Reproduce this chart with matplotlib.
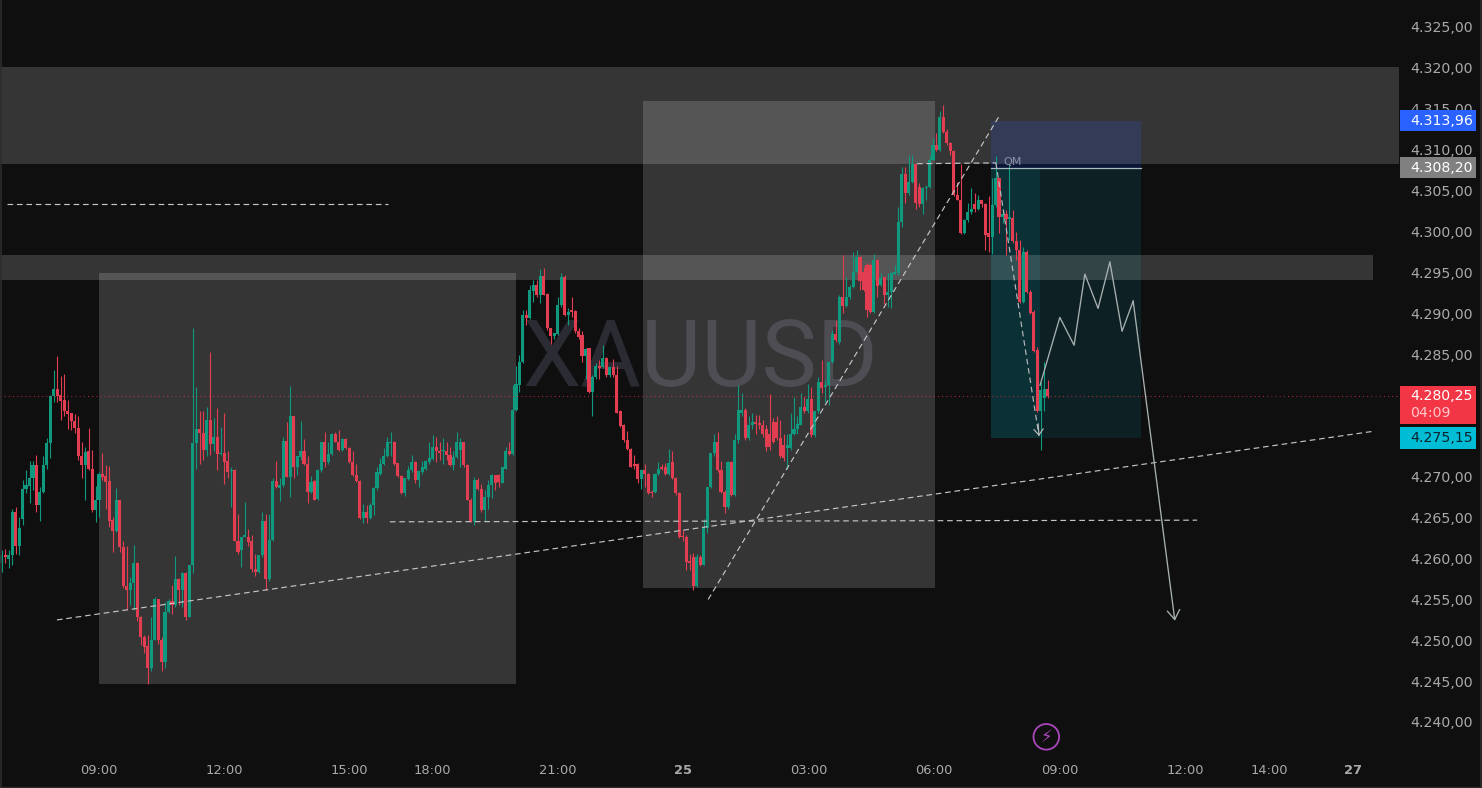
import numpy as np
import matplotlib
matplotlib.use("Agg")
import matplotlib.pyplot as plt
from matplotlib.patches import Rectangle
from matplotlib.transforms import blended_transform_factory

candle_index = list(range(-28, 274))

opens = [4259.8,4260.9,4260.4,4260.8,4266.1,4261.9,4265.2,4268.9,4269.3,4270.2,
4271.8,4267.0,4268.5,4271.8,4274.5,4280.3,4281.2,4280.4,4279.8,4278.5,
4278.2,4277.2,4276.4,4273.0,4271.8,4273.5,4271.4,4266.3,4267.6,4270.8,
4270.5,4269.9,4265.1,4263.8,4267.6,4261.8,4257.0,4256.6,4257.4,4259.9,
4253.2,4250.8,4249.7,4247.0,4250.5,4255.4,4250.5,4247.8,4253.9,4255.2,
4254.7,4257.9,4256.6,4258.6,4253.3,4259.6,4274.5,4276.3,4275.8,4273.7,
4277.4,4274.4,4275.3,4273.2,4273.3,4272.3,4271.1,4271.2,4262.6,4261.4,
4263.1,4263.1,4262.5,4259.1,4258.8,4260.8,4265.0,4257.9,4262.7,4269.9,
4269.0,4269.4,4274.8,4270.4,4277.8,4271.6,4272.8,4273.5,4272.0,4268.5,
4269.9,4267.7,4271.2,4274.6,4272.2,4273.2,4275.7,4274.7,4273.7,4275.0,
4273.9,4272.2,4270.6,4269.9,4265.4,4266.1,4265.4,4267.0,4269.0,4270.8,
4272.0,4272.9,4274.5,4274.7,4272.1,4270.5,4268.4,4270.1,4271.2,4272.2,
4270.0,4271.0,4271.4,4272.2,4272.6,4274.0,4273.6,4273.5,4273.6,4273.1,
4271.8,4272.8,4273.7,4274.6,4271.8,4267.6,4265.0,4270.0,4268.9,4266.3,
4267.9,4269.4,4270.6,4270.6,4269.7,4271.4,4273.5,4273.2,4278.6,4281.6,
4284.5,4290.2,4289.8,4293.1,4293.9,4292.6,4295.0,4292.8,4288.6,4287.6,
4287.9,4291.4,4294.9,4290.2,4290.7,4290.7,4288.2,4287.7,4285.2,4286.1,
4280.8,4282.6,4283.9,4283.8,4284.9,4282.8,4283.8,4282.9,4278.4,4276.7,
4274.9,4273.8,4272.0,4272.0,4270.1,4271.2,4270.8,4268.6,4268.5,4270.7,
4271.6,4271.6,4270.7,4272.2,4270.2,4268.4,4263.2,4263.1,4260.0,4260.6,
4257.0,4260.6,4259.6,4264.1,4269.2,4273.3,4274.7,4271.2,4268.5,4266.7,
4272.2,4268.2,4274.9,4278.2,4278.6,4275.1,4276.7,4277.1,4277.0,4276.8,
4276.3,4275.7,4277.1,4277.1,4275.1,4274.3,4273.9,4273.9,4275.7,4276.3,
4276.7,4279.0,4278.4,4279.9,4275.5,4278.4,4282.0,4281.4,4281.6,4284.5,
4287.9,4286.9,4292.4,4291.3,4292.4,4293.6,4295.5,4297.3,4295.5,4296.3,
4296.3,4290.6,4296.9,4293.9,4294.8,4292.7,4293.0,4295.2,4295.3,4301.6,
4307.5,4305.1,4306.5,4308.7,4305.9,4303.8,4305.7,4305.8,4309.2,4311.0,
4310.4,4314.4,4312.6,4311.2,4310.2,4304.9,4304.3,4300.2,4301.8,4302.8,
4303.8,4303.1,4304.2,4303.8,4300.2,4299.7,4303.6,4306.9,4302.2,4302.5,
4301.9,4302.0,4299.2,4298.1,4291.8,4297.9,4293.0,4290.6,4285.9,4278.4,
4280.0,4281.2]

highs = [4261.4,4261.6,4261.4,4266.5,4266.7,4265.5,4270.0,4271.2,4272.3,4272.3,
4273.1,4269.2,4272.9,4275.1,4280.4,4283.5,4285.2,4282.7,4283.0,4279.8,
4278.2,4278.1,4277.9,4274.7,4274.0,4276.4,4273.7,4269.3,4271.0,4273.3,
4271.8,4271.7,4265.5,4269.0,4267.6,4262.5,4261.9,4258.2,4262.1,4260.0,
4253.4,4251.0,4251.0,4253.3,4255.7,4255.5,4250.8,4255.1,4255.5,4257.2,
4260.7,4258.0,4258.7,4258.7,4259.6,4288.6,4281.4,4278.4,4278.4,4278.9,
4285.7,4277.6,4278.8,4276.5,4278.2,4273.5,4271.6,4271.3,4265.9,4263.1,
4267.3,4264.0,4263.3,4261.0,4260.8,4266.1,4265.9,4265.9,4270.2,4272.3,
4270.2,4275.3,4277.1,4281.5,4277.8,4272.9,4277.2,4275.0,4272.9,4270.5,
4270.0,4271.4,4274.7,4275.9,4274.7,4275.8,4275.9,4276.1,4275.1,4275.2,
4274.1,4273.5,4272.0,4270.0,4267.1,4266.9,4267.2,4269.2,4271.6,4272.7,
4273.9,4275.3,4275.9,4274.8,4272.1,4270.6,4270.2,4271.7,4273.1,4272.3,
4271.2,4272.3,4272.5,4274.7,4275.5,4275.3,4274.7,4275.1,4274.7,4274.1,
4273.5,4275.9,4275.1,4274.7,4272.0,4267.8,4270.4,4270.2,4269.5,4268.8,
4270.0,4270.7,4270.6,4270.8,4271.6,4274.1,4274.7,4281.6,4283.9,4285.3,
4290.8,4290.8,4293.9,4294.5,4294.5,4295.8,4295.9,4292.9,4288.6,4288.0,
4292.4,4295.3,4295.1,4291.0,4292.4,4290.8,4288.6,4288.2,4286.1,4286.2,
4282.9,4284.3,4284.7,4286.5,4285.0,4283.9,4284.8,4283.9,4278.6,4276.9,
4276.0,4273.9,4273.1,4272.1,4271.4,4272.0,4270.9,4268.8,4270.9,4272.2,
4272.0,4272.1,4273.8,4273.5,4270.4,4268.5,4263.9,4263.3,4261.0,4261.1,
4261.0,4260.8,4265.3,4269.2,4273.3,4275.7,4275.9,4272.3,4268.8,4272.3,
4272.3,4275.7,4281.6,4280.6,4278.8,4277.8,4278.2,4278.0,4278.0,4277.3,
4276.7,4280.5,4277.6,4277.8,4277.3,4275.7,4275.7,4278.2,4280.2,4277.8,
4280.6,4280.2,4281.8,4281.4,4278.4,4282.6,4284.7,4282.2,4284.5,4288.4,
4289.6,4292.6,4297.5,4294.9,4293.9,4297.9,4298.1,4297.4,4296.1,4296.5,
4296.5,4297.7,4297.0,4295.3,4294.9,4295.3,4295.4,4296.3,4303.4,4308.3,
4308.3,4309.8,4309.8,4308.7,4306.3,4305.9,4306.1,4309.6,4311.8,4312.4,
4315.1,4315.9,4312.9,4311.4,4310.4,4306.5,4308.7,4301.9,4303.9,4305.7,
4305.1,4304.9,4304.3,4303.9,4304.7,4306.9,4309.6,4306.9,4303.2,4303.0,
4308.7,4303.0,4300.4,4299.4,4298.5,4298.1,4293.3,4290.8,4286.3,4282.0,
4284.5,4282.2]

lows = [4258.8,4259.8,4259.2,4259.6,4261.0,4260.8,4264.5,4268.4,4267.2,4268.8,
4266.1,4265.0,4268.4,4271.4,4272.7,4279.5,4279.6,4277.3,4277.8,4276.3,
4276.1,4275.8,4272.5,4270.2,4267.6,4271.2,4266.1,4264.9,4265.5,4270.0,
4266.5,4264.3,4261.2,4263.7,4261.2,4256.8,4254.2,4254.7,4254.1,4252.8,
4249.8,4248.8,4245.1,4246.6,4250.4,4250.0,4246.6,4247.0,4253.7,4253.6,
4254.5,4254.7,4254.5,4252.9,4253.2,4258.6,4271.4,4272.0,4272.5,4272.9,
4273.1,4273.5,4271.2,4273.1,4269.5,4270.2,4266.7,4262.5,4261.0,4259.4,
4263.1,4261.9,4258.8,4258.3,4258.6,4260.6,4256.6,4257.7,4262.6,4269.0,
4267.4,4269.2,4270.4,4267.9,4270.2,4270.6,4272.5,4271.8,4267.2,4268.4,
4267.6,4267.6,4271.0,4271.6,4272.0,4273.1,4274.6,4273.6,4273.6,4273.8,
4272.1,4270.5,4269.8,4265.3,4264.7,4264.7,4265.3,4265.7,4268.8,4270.6,
4271.8,4272.8,4272.9,4271.8,4270.4,4268.3,4268.1,4270.0,4271.0,4269.6,
4269.1,4270.8,4271.2,4272.0,4272.5,4272.2,4272.5,4272.0,4272.5,4271.7,
4271.2,4272.7,4271.6,4271.6,4267.6,4264.9,4264.5,4268.8,4266.1,4265.0,
4266.5,4267.8,4268.8,4269.1,4269.6,4271.3,4273.1,4273.1,4278.4,4280.8,
4284.3,4289.0,4289.7,4291.8,4292.4,4291.7,4292.6,4288.4,4286.7,4287.3,
4287.7,4291.2,4290.1,4289.0,4290.0,4288.0,4287.3,4284.5,4282.4,4280.7,
4277.9,4282.4,4282.4,4283.7,4282.6,4282.6,4282.6,4278.2,4276.5,4274.7,
4273.7,4271.6,4271.4,4269.7,4268.9,4269.2,4268.3,4267.9,4268.4,4270.6,
4271.2,4270.6,4270.6,4270.1,4268.2,4262.9,4262.5,4259.0,4259.0,4256.6,
4256.9,4259.5,4259.6,4263.5,4269.0,4272.9,4271.0,4268.4,4266.0,4266.5,
4268.1,4268.0,4274.5,4277.9,4274.9,4274.9,4276.3,4275.7,4276.3,4275.3,
4273.5,4273.7,4274.5,4274.9,4272.7,4272.3,4271.4,4273.7,4275.5,4275.7,
4276.7,4278.2,4278.2,4275.3,4275.3,4278.2,4280.6,4279.6,4279.2,4284.3,
4286.9,4286.7,4290.4,4291.2,4292.2,4293.5,4295.3,4293.3,4293.1,4290.0,
4290.4,4290.4,4292.4,4293.7,4291.6,4291.2,4291.0,4295.1,4295.1,4301.0,
4303.9,4304.9,4306.3,4303.2,4303.4,4302.6,4304.3,4305.7,4309.2,4310.3,
4310.3,4312.4,4311.0,4309.8,4304.7,4304.3,4300.1,4300.1,4301.6,4302.6,
4302.8,4303.0,4303.4,4298.1,4297.9,4297.7,4303.4,4300.2,4301.4,4297.5,
4299.4,4299.0,4296.9,4291.7,4291.7,4292.9,4290.3,4285.7,4278.3,4273.7,
4278.4,4280.0]

closes = [4260.8,4260.6,4260.8,4266.1,4261.9,4264.1,4268.9,4269.4,4270.2,4271.8,
4267.0,4268.5,4271.8,4274.5,4280.3,4281.2,4280.3,4279.7,4278.4,4278.1,
4277.2,4276.4,4273.0,4271.8,4273.4,4271.4,4266.3,4267.6,4270.8,4270.4,
4269.8,4265.0,4263.8,4267.6,4261.8,4257.0,4256.6,4257.4,4259.9,4253.2,
4250.8,4249.6,4247.0,4250.5,4255.4,4250.5,4247.8,4253.9,4255.2,4254.7,
4257.9,4256.6,4258.6,4253.3,4259.6,4274.5,4276.3,4275.8,4273.7,4277.4,
4274.4,4275.3,4273.2,4273.3,4272.2,4271.0,4271.2,4262.6,4261.2,4263.1,
4263.2,4262.4,4259.1,4258.7,4260.8,4265.0,4257.9,4262.7,4269.9,4269.1,
4269.4,4274.8,4270.4,4277.8,4271.6,4272.9,4273.5,4272.0,4268.5,4269.8,
4267.6,4271.2,4274.6,4272.2,4273.2,4275.7,4274.7,4273.7,4275.0,4273.9,
4272.2,4270.6,4269.9,4265.4,4266.1,4265.4,4267.0,4269.0,4271.0,4272.0,
4272.9,4274.7,4274.7,4272.0,4270.5,4268.4,4270.2,4271.2,4272.2,4270.0,
4271.1,4271.6,4272.3,4272.7,4274.0,4273.6,4273.3,4273.7,4273.1,4271.8,
4272.8,4274.6,4274.7,4271.8,4267.6,4265.0,4270.0,4268.9,4266.3,4267.9,
4269.4,4270.6,4269.7,4269.8,4271.6,4273.5,4273.2,4278.6,4281.7,4284.5,
4290.2,4289.8,4293.2,4293.9,4292.6,4295.0,4292.7,4288.6,4287.6,4288.0,
4291.4,4294.9,4290.2,4290.6,4290.6,4288.2,4287.5,4285.2,4286.0,4280.8,
4282.6,4283.9,4283.7,4284.9,4282.8,4283.8,4282.8,4278.2,4276.6,4274.9,
4273.8,4271.6,4271.7,4270.1,4271.2,4270.8,4268.4,4268.4,4270.8,4271.3,
4271.3,4270.7,4272.1,4270.2,4268.4,4263.1,4263.0,4260.0,4259.9,4257.0,
4260.6,4259.6,4264.1,4269.2,4273.3,4274.7,4271.2,4268.5,4266.7,4272.2,
4268.2,4274.9,4278.6,4278.6,4275.1,4276.7,4277.1,4276.9,4276.7,4275.7,
4274.1,4274.1,4274.7,4275.1,4272.9,4272.7,4274.3,4275.7,4276.3,4276.9,
4279.0,4278.4,4279.9,4275.5,4278.4,4282.0,4281.3,4281.6,4284.5,4287.9,
4287.1,4292.4,4291.3,4292.4,4293.6,4295.5,4297.3,4294.3,4293.3,4290.8,
4290.6,4296.9,4293.7,4294.7,4292.7,4293.0,4295.3,4295.4,4301.6,4307.5,
4305.1,4306.5,4308.7,4303.9,4303.8,4305.7,4305.8,4309.2,4311.0,4310.4,
4314.4,4312.6,4311.2,4310.2,4304.9,4304.3,4300.2,4301.8,4302.8,4303.2,
4303.1,4304.3,4303.8,4300.0,4299.7,4303.6,4306.9,4302.2,4302.5,4301.9,
4302.2,4299.2,4298.1,4291.8,4297.9,4293.0,4290.4,4285.8,4278.4,4281.0,
4281.2,4280.25]

x_tick_pos = [0, 36, 72, 96, 132, 168, 204.3, 240.2, 276.5, 312.5, 336.7, 360.9]
x_tick_lab = ["09:00", "12:00", "15:00", "18:00", "21:00", "25", "03:00", "06:00", "09:00", "12:00", "14:00", "27"]
y_tick_pos = [4325, 4320, 4315, 4310, 4305, 4300, 4295, 4290, 4285, 4270, 4265, 4260, 4255, 4250, 4245, 4240]
y_tick_lab = ["4.325,00", "4.320,00", "4.315,00", "4.310,00", "4.305,00", "4.300,00", "4.295,00", "4.290,00",
              "4.285,00", "4.270,00", "4.265,00", "4.260,00", "4.255,00", "4.250,00", "4.245,00", "4.240,00"]

top_band = (4308.66, 4320.5, 374.1)
mid_band = (4294.47, 4297.53, 366.6)
box_one = (0, 120, 4245.06, 4295.33)
box_two = (156.5, 240.6, 4256.8, 4316.4)
stop_price, entry_price, target_price, last_price = 4313.96, 4308.20, 4275.15, 4280.25
pos_left, pos_now, pos_right = 256.7, 270.8, 299.9

long_trend_x, long_trend_y = [-12.1, 367.2], [4252.9, 4276.0]
flat_x, flat_y = [83.7, 316.0], [4264.9, 4265.1]
upper_x, upper_y = [-26.5, 83.2], [4303.8, 4303.8]
rise_x, rise_y = [175.3, 259.3], [4255.4, 4314.7]
qm_x, qm_y = [235.4, 258.1], [4308.7, 4308.8]
drop_x, drop_y = [258.1, 270.5], [4308.8, 4275.4]
path_x = [270.8, 276.5, 280.6, 283.7, 287.5, 290.9, 294.4, 297.6, 309.6]
path_y = [4281.6, 4289.9, 4286.5, 4295.2, 4291.0, 4296.7, 4288.2, 4291.9, 4252.8]

BG = "#0f0f0f"
UP, DOWN = "#0f9a80", "#e23d50"
DASH = (0, (4.8, 3.2))
PX = 3.475

fig = plt.figure(figsize=(14.82, 7.88), dpi=100, facecolor=BG)
ax = fig.add_axes([0, 0, 1, 1], facecolor=BG)
ax.set_xlim(-99 / PX, (1482 - 99) / PX)
ax.set_ylim(4280.25 + (396.3 - 788) / 8.176, 4280.25 + 396.3 / 8.176)
ax.axis("off")

ax.text(173, 4284.6, "XAUUSD", color="#2b2b33", fontsize=67, family="Roboto", ha="center", va="center", zorder=0)

x0 = ax.get_xlim()[0]
ax.add_patch(Rectangle((pos_left, target_price), pos_right - pos_left, entry_price - target_price, fc="#00bcd4", alpha=0.11, lw=0, zorder=1))
ax.add_patch(Rectangle((pos_left, target_price), pos_now - pos_left, entry_price - target_price, fc="#00bcd4", alpha=0.10, lw=0, zorder=1))
ax.add_patch(Rectangle((pos_left, entry_price), pos_right - pos_left, stop_price - entry_price, fc="#0c1638", lw=0, zorder=1.2))
ax.add_patch(Rectangle((x0, top_band[0]), top_band[2] - x0, top_band[1] - top_band[0], fc="white", alpha=0.16, lw=0, zorder=1.5))
ax.add_patch(Rectangle((x0, mid_band[0]), mid_band[2] - x0, mid_band[1] - mid_band[0], fc="white", alpha=0.16, lw=0, zorder=1.5))
for l, r, b, t in (box_one, box_two):
    ax.add_patch(Rectangle((l, b), r - l, t - b, fc="white", alpha=0.16, lw=0, zorder=1.6))

assert len(opens) == len(highs) == len(lows) == len(closes) == len(candle_index)
o, h, l, c = map(np.array, (opens, highs, lows, closes))
xs = np.array(candle_index)
cols = np.where(c >= o, UP, DOWN)
ax.vlines(xs, l, h, colors=cols, lw=0.8, zorder=3)
bottoms = np.minimum(o, c)
heights = np.maximum(np.abs(c - o), 0.15)
ax.bar(xs, heights, bottom=bottoms, width=0.88, color=cols, lw=0, zorder=3.1)

ax.plot([x0, 374.3], [last_price, last_price], color="#f23645", lw=0.75, ls=(0, (1, 3)), alpha=0.7, zorder=3.5)
ax.plot([pos_left, pos_right], [entry_price, entry_price], color="#a9bcc2", lw=0.9, zorder=4)

for xv, yv in ((long_trend_x, long_trend_y), (flat_x, flat_y), (upper_x, upper_y), (rise_x, rise_y), (qm_x, qm_y)):
    ax.plot(xv, yv, color="#c4c4c4", lw=0.85, ls=DASH, zorder=4)
ax.plot(drop_x, drop_y, color="#b8b8b8", lw=0.85, ls=DASH, zorder=4)
ax.annotate("", xy=(drop_x[1], drop_y[1]), xytext=(drop_x[1] - 0.25, drop_y[1] + 1.5),
            arrowprops=dict(arrowstyle="->,head_length=0.35,head_width=0.28", color="#b8b8b8", lw=0.85,
                            mutation_scale=12, shrinkA=0, shrinkB=0), zorder=4)
ax.plot(path_x[:-1], path_y[:-1], color="#a8b0b0", lw=0.95, zorder=4)
ax.annotate("", xy=(path_x[-1], path_y[-1]), xytext=(path_x[-2], path_y[-2]),
            arrowprops=dict(arrowstyle="->,head_length=0.42,head_width=0.28", color="#a8b0b0", lw=0.95,
                            mutation_scale=16, shrinkA=0, shrinkB=0), zorder=4)
ax.text(263.0, 4308.9, "QM", color="#8a93a8", fontsize=8, ha="center", va="center", family="DejaVu Sans", zorder=4)

trans = blended_transform_factory(ax.transAxes, ax.transData)
LABEL_X = 1410 / 1482
for p, s in zip(y_tick_pos, y_tick_lab):
    ax.text(LABEL_X, p + 0.24, s, transform=trans, color="#a9a9a9", fontsize=10.2, va="center", ha="left", zorder=5)
for p, s in zip(x_tick_pos, x_tick_lab):
    ax.text(p, 4280.25 + (396.3 - 770.5) / 8.176, s, color="#a9a9a9", fontsize=9.4, ha="center", va="center",
            fontweight="bold" if s in ("25", "27") else "normal", zorder=5)

box_l, box_w = (1400 - 99) / PX, 76 / PX
labels = [(stop_price, "#2962ff", "4.313,96", "white"), (entry_price, "#808080", "4.308,20", "white"),
          (target_price, "#00bcd4", "4.275,15", "#0b2530")]
for p, fc, s, tc in labels:
    ax.add_patch(Rectangle((box_l, p - 1.3), box_w, 2.6, fc=fc, lw=0, zorder=6))
    ax.text(LABEL_X, p, s, transform=trans, color=tc, fontsize=10.2, va="center", ha="left", zorder=7)
ax.add_patch(Rectangle((box_l, last_price - 3.4), box_w, 4.65, fc="#f23645", lw=0, zorder=6))
ax.text(LABEL_X, last_price, "4.280,25", transform=trans, color="white", fontsize=10.2, va="center", ha="left", zorder=7)
ax.text(LABEL_X, last_price - 2.1, "04:09", transform=trans, color="#ffc4ca", fontsize=10.2, va="center", ha="left", zorder=7)

ax.scatter([272.6], [4238.6], s=340, facecolors="none", edgecolors="#ab47bc", linewidths=1.3, zorder=6)
ax.text(272.6, 4238.6, "\u26a1", color="#ab47bc", fontsize=12, ha="center", va="center", family="DejaVu Sans", zorder=6)

fig.add_artist(plt.Line2D([0.0007, 0.0007], [0, 1], color="#2c2c2c", lw=1.2))
fig.add_artist(plt.Line2D([0.9993, 0.9993], [0, 1], color="#2c2c2c", lw=1.2))
fig.add_artist(plt.Line2D([0, 1], [0.0008, 0.0008], color="#2c2c2c", lw=1.0))

fig.savefig("out.png", dpi=100, facecolor=BG)
